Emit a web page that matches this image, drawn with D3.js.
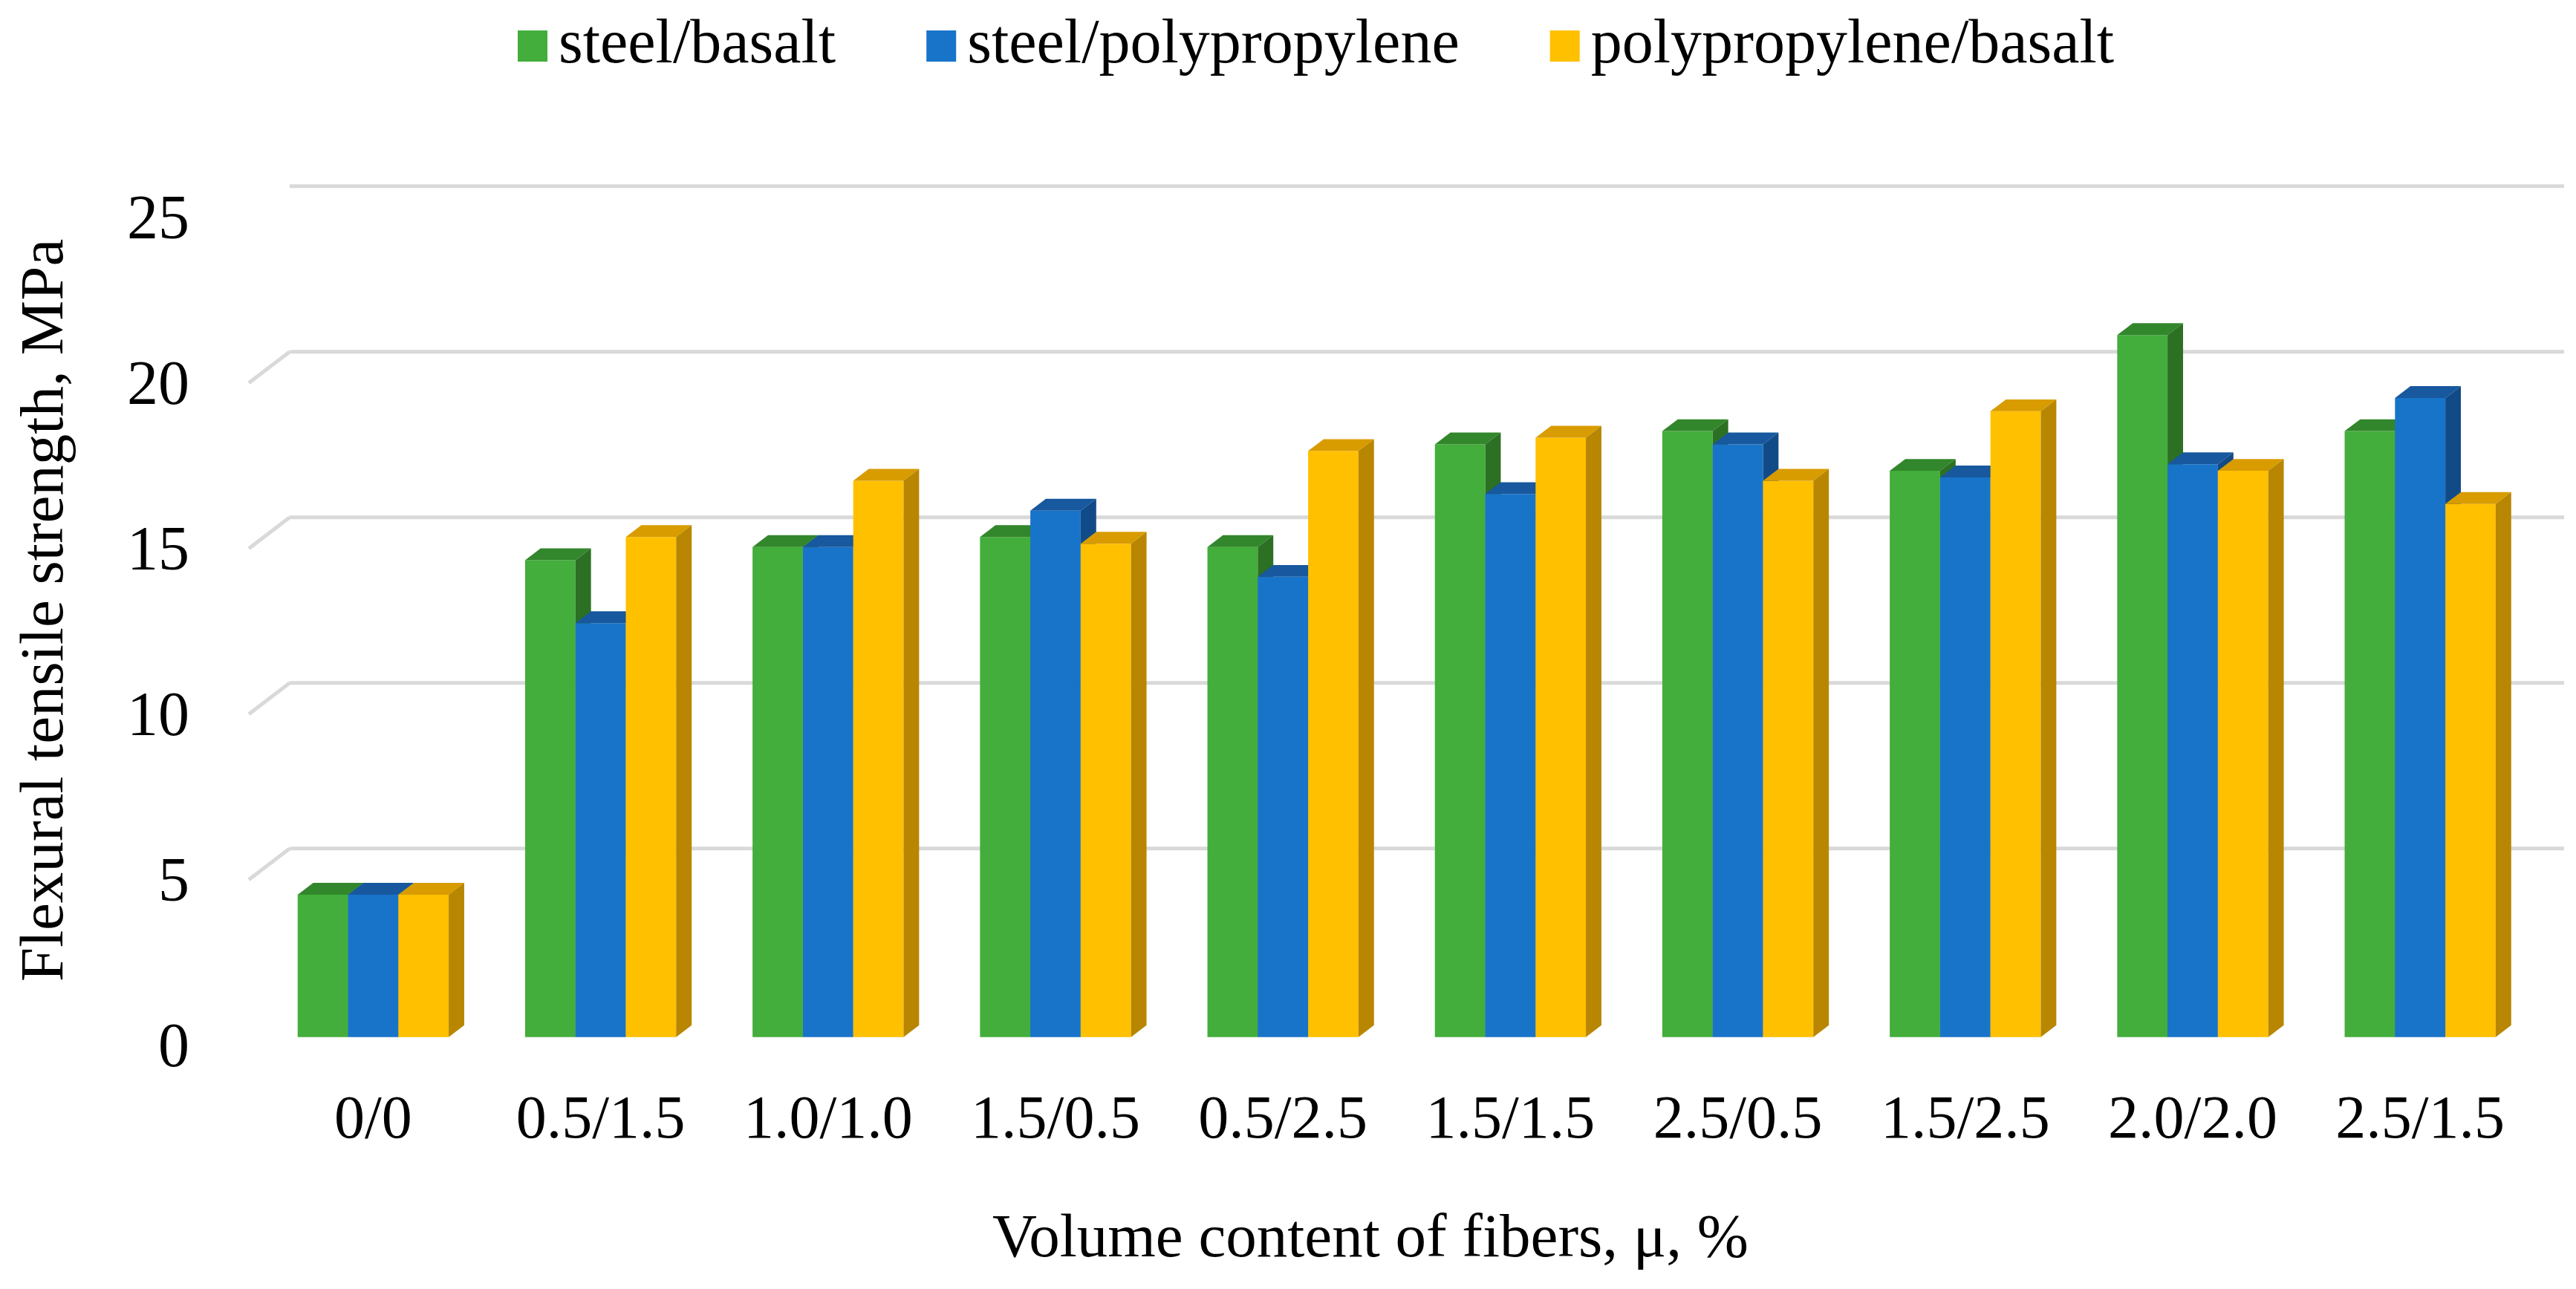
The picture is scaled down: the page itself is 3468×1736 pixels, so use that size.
<!DOCTYPE html>
<html>
<head>
<meta charset="utf-8">
<script src="https://cdn.jsdelivr.net/npm/d3@7"></script>
<style>
  body { margin: 0; background: #fff; }
  text { font-family: "Liberation Serif", "Times New Roman", serif; fill: #000; }
</style>
</head>
<body>
<div id="chart"></div>
<script>

// data
var categories = ["0/0", "0.5/1.5", "1.0/1.0", "1.5/0.5", "0.5/2.5", "1.5/1.5", "2.5/0.5", "1.5/2.5", "2.0/2.0", "2.5/1.5"];
var seriesNames = ["steel/basalt", "steel/polypropylene", "polypropylene/basalt"];
var steelBasalt = [4.3, 14.4, 14.8, 15.1, 14.8, 17.9, 18.3, 17.1, 21.2, 18.3];
var steelPoly   = [4.3, 12.5, 14.8, 15.9, 13.9, 16.4, 17.9, 16.9, 17.3, 19.3];
var polyBasalt  = [4.3, 15.1, 16.8, 14.9, 17.7, 18.1, 16.8, 18.9, 17.1, 16.1];
var yTicks = [0, 5, 10, 15, 20, 25];

var seriesValues = [steelBasalt, steelPoly, polyBasalt];

const W = 3468, H = 1736;
const frontColor = ["#43ae3b", "#1874c9", "#ffc000"];
const topColor   = ["#32862b", "#17589e", "#d89c00"];
const sideColor  = ["#2c7023", "#114b87", "#b88600"];

// 3d depth of the chart (front plane -> back wall)
const depth = {x: 55, y: -42};
const barFront = 0.26, barBack = 0.64;

const svg = d3.select("#chart").append("svg")
    .attr("width", W)
    .attr("height", H);

const x = d3.scaleBand()
    .domain(categories)
    .range([335, 3397])
    .paddingInner(0.336)
    .paddingOuter(0.168);

const xSub = d3.scaleBand()
    .domain(d3.range(seriesNames.length))
    .range([0, x.bandwidth()]);

const y = d3.scaleLinear()
    .domain([0, 25])
    .range([1407.7, 292.7]);

/* сітка на задній стінці */
var grid = svg.append("g");
grid.selectAll(".back-line")
    .data(yTicks.filter(function(d){ return d > 0 }))
    .enter().append("line")
    .attr("x1", x.range()[0] + depth.x)
    .attr("x2", x.range()[1] + depth.x)
    .attr("y1", function(d){ return y(d) + depth.y })
    .attr("y2", function(d){ return y(d) + depth.y })
    .attr("stroke", "#d9d9d9")
    .attr("stroke-width", 5);

grid.selectAll(".side-line")
    .data(yTicks.filter(function(d){ return d > 0 && d < 25 }))
    .enter().append("line")
    .attr("x1", x.range()[0])
    .attr("x2", x.range()[0] + depth.x)
    .attr("y1", function(d){ return y(d) })
    .attr("y2", function(d){ return y(d) + depth.y })
    .attr("stroke", "#d9d9d9")
    .attr("stroke-width", 5);

/* бари */
var bars = [];
categories.forEach(function(c, i){
    seriesValues.forEach(function(vals, s){
        bars.push({cat: c, s: s, v: vals[i]});
    });
});

const fx = depth.x * barFront, fy = depth.y * barFront;
const dx = depth.x * (barBack - barFront), dy = depth.y * (barBack - barFront);

var barG = svg.append("g").selectAll("g")
    .data(bars)
    .enter().append("g");

barG.each(function(d){
    var g = d3.select(this);
    var x0 = x(d.cat) + xSub(d.s) + fx,
        x1 = x0 + xSub.bandwidth(),
        yt = y(d.v) + fy,
        yb = y(0) + fy;

    g.append("path")
        .attr("d", "M" + x0 + "," + yb + "L" + x0 + "," + yt + "L" + x1 + "," + yt + "L" + x1 + "," + yb + "Z")
        .attr("fill", frontColor[d.s]);

    g.append("path")
        .attr("d", "M" + x0 + "," + yt + "L" + (x0 + dx) + "," + (yt + dy) + "L" + (x1 + dx) + "," + (yt + dy) + "L" + x1 + "," + yt + "Z")
        .attr("fill", topColor[d.s]);

    g.append("path")
        .attr("d", "M" + x1 + "," + yt + "L" + (x1 + dx) + "," + (yt + dy) + "L" + (x1 + dx) + "," + (yb + dy) + "L" + x1 + "," + yb + "Z")
        .attr("fill", sideColor[d.s]);
});

/* підписи осей */
svg.append("g").selectAll("text")
    .data(yTicks)
    .enter().append("text")
    .attr("x", 255)
    .attr("y", function(d){ return y(d) + 28 })
    .attr("text-anchor", "end")
    .attr("font-size", 84)
    .text(function(d){ return d });

svg.append("g").selectAll("text")
    .data(categories)
    .enter().append("text")
    .attr("x", function(d){ return x(d) + x.bandwidth() / 2 + fx })
    .attr("y", 1532)
    .attr("text-anchor", "middle")
    .attr("font-size", 82)
    .text(function(d){ return d });

svg.append("text")
    .attr("transform", "translate(84,822) rotate(-90)")
    .attr("text-anchor", "middle")
    .attr("font-size", 83)
    .text("Flexural tensile strength, MPa");

svg.append("text")
    .attr("x", 1845)
    .attr("y", 1692)
    .attr("text-anchor", "middle")
    .attr("font-size", 83)
    .text("Volume content of fibers, \u03bc, %");

/* легенда */
var legend = svg.append("g");
var lx = 697;
seriesNames.forEach(function(name, s){
    legend.append("rect")
        .attr("x", lx)
        .attr("y", 41)
        .attr("width", 40)
        .attr("height", 42)
        .attr("fill", frontColor[s]);
    var t = legend.append("text")
        .attr("x", lx + 55)
        .attr("y", 84)
        .attr("font-size", 84)
        .text(name);
    lx = lx + 55 + t.node().getComputedTextLength() + 122;
});

</script>
</body>
</html>
